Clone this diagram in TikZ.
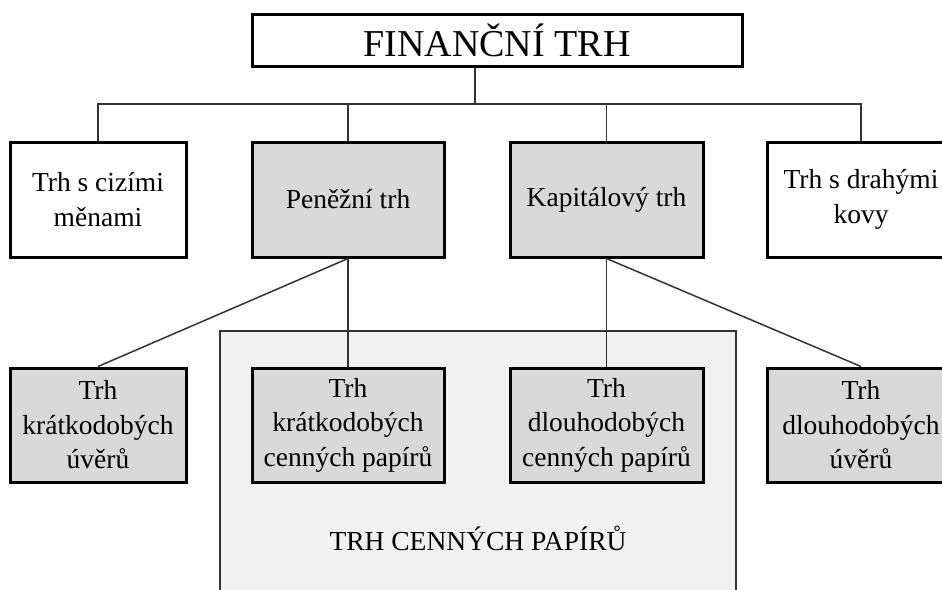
\documentclass[tikz,border=0pt]{standalone}
\usepackage{fontspec}
\setmainfont{Liberation Serif}
\definecolor{boxgray}{HTML}{D9D9D9}
\definecolor{regiongray}{HTML}{F1F1F1}
\definecolor{linegray}{HTML}{333333}
\begin{document}
\begin{tikzpicture}[x=1pt,y=-1pt,
  box/.style={draw=black,line width=3pt,rectangle,align=center,inner sep=0pt,
    font=\fontsize{27.5}{34.5}\selectfont},
  graybox/.style={box,fill=boxgray},
  whitebox/.style={box,fill=white},
  conn/.style={draw=linegray,line width=1.5pt},
  region/.style={draw=linegray,line width=1.5pt,fill=regiongray,rectangle,inner sep=0pt}]
\path[use as bounding box,clip] (0,0) rectangle (942,589);
\fill[white] (0,0) rectangle (942,589);
% region
\node[region,minimum width=516pt,minimum height=280pt] (cp) at (478,471) {};
\node[font=\fontsize{27.5}{33}\selectfont] (cplabel) at (478,538) {TRH CENNÝCH PAPÍRŮ};
% top
\node[whitebox,minimum width=490pt,minimum height=52pt,font=\fontsize{38}{44}\selectfont] (top) at (497,40) {FINANČNÍ TRH};
% second row
\node[whitebox,minimum width=176pt,minimum height=115pt] (b1) at (98,199.5) {Trh s cizími\\měnami};
\node[graybox,minimum width=192pt,minimum height=115pt] (b2) at (348,199.5) {Peněžní trh};
\node[graybox,minimum width=193pt,minimum height=115pt] (b3) at (606.5,199.5) {Kapitálový trh};
\node[whitebox,minimum width=188pt,minimum height=115pt] (b4) at (861,199.5) {Trh s drahými\\kovy};
% third row
\node[graybox,minimum width=176pt,minimum height=114pt] (c1) at (98,425) {Trh\\krátkodobých\\úvěrů};
\node[graybox,minimum width=192pt,minimum height=114pt] (c2) at (348,425) {Trh\\krátkodobých\\cenných papírů};
\node[graybox,minimum width=193pt,minimum height=114pt] (c3) at (606.5,425) {Trh\\dlouhodobých\\cenných papírů};
\node[graybox,minimum width=188pt,minimum height=114pt] (c4) at (861,425) {Trh\\dlouhodobých\\úvěrů};
% bus
\coordinate (bus) at (475,104);
\draw[conn] (top.south -| bus) -- (bus);
\draw[conn] (b1.north) -- (b1.north |- bus) -- (b4.north |- bus) -- (b4.north);
\draw[conn] (b2.north) -- (b2.north |- bus);
\draw[conn] (b3.north) -- (b3.north |- bus);
% lower connectors
\draw[conn] (b2.south) -- (c1.north);
\draw[conn] (b2.south) -- (c2.north);
\draw[conn] (b3.south) -- (c3.north);
\draw[conn] (b3.south) -- (c4.north);
\end{tikzpicture}
\end{document}
